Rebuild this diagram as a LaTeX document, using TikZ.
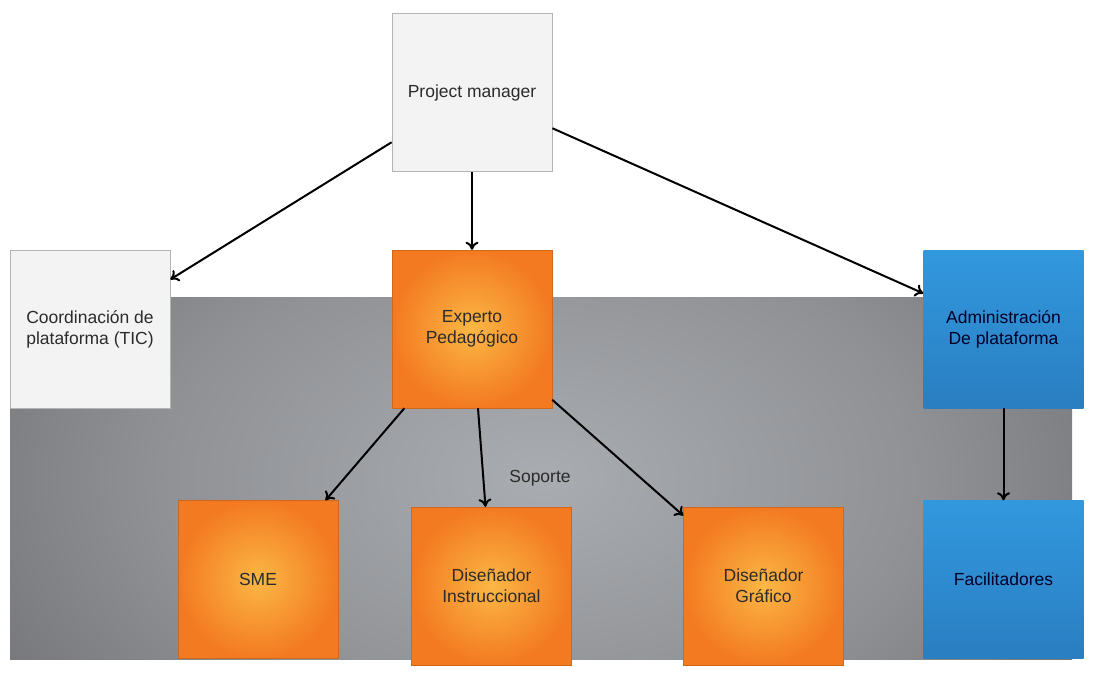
\documentclass[tikz,border=0pt]{standalone}
\usepackage{fontspec}
\setmainfont{Liberation Sans}
\usetikzlibrary{arrows.meta}
\definecolor{boxgray}{HTML}{F3F3F3}
\definecolor{boxline}{HTML}{B4B4B4}
\definecolor{orangein}{HTML}{FBB745}
\definecolor{orangeout}{HTML}{F37A21}
\definecolor{bluetop}{HTML}{3298DE}
\definecolor{bluebot}{HTML}{2A7EC1}
\definecolor{inktext}{HTML}{2B2B2B}
\definecolor{bandA}{HTML}{A9ACB0}
\definecolor{bandB}{HTML}{8F9195}
\definecolor{bandC}{HTML}{717175}
\definecolor{bandD}{HTML}{606064}
\definecolor{bandE}{HTML}{56565A}
\pgfdeclareradialshading{bandshade}{\pgfpoint{0bp}{0bp}}{color(0bp)=(bandA); color(18bp)=(bandB); color(32bp)=(bandC); color(42bp)=(bandD); color(70bp)=(bandE)}
\begin{document}
\begin{tikzpicture}[x=1pt, y=-1pt,
  font=\fontsize{17.5}{21}\selectfont,
  role/.style={align=center, minimum width=160pt, minimum height=158pt, inner sep=0pt, text=inktext},
  plainbox/.style={role, fill=boxgray, draw=boxline, line width=.8pt},
  orangebox/.style={role, inner color=orangein, outer color=orangeout, draw=orangeout!85!black, line width=.4pt},
  bluebox/.style={role, top color=bluetop, bottom color=bluebot, text=black!75!blue!60!black},
  link/.style={-{To[length=8pt,width=13pt]}, line width=2pt}]
\useasboundingbox (0,0) rectangle (1096,688);
% gray band behind the lower boxes
\begin{scope}
  \clip (10,297) rectangle (1072,659);
  \shade[shading=bandshade] (10,147) rectangle (1072,809);
\end{scope}
\node[plainbox] (pm) at (472,92.5) {Project manager};
\node[plainbox] (coord) at (90,329) {Coordinación de\\plataforma (TIC)};
\node[orangebox] (experto) at (472,329) {Experto\\Pedagógico};
\node[bluebox] (admin) at (1003.5,329) {Administración\\De plataforma};
\node[orangebox] (sme) at (258,579.5) {SME};
\node[orangebox] (dinst) at (491.5,586) {Diseñador\\Instruccional};
\node[orangebox] (dgraf) at (763.5,586) {Diseñador\\Gráfico};
\node[bluebox] (facil) at (1003.5,579.5) {Facilitadores};
\node[text=inktext] (soporte) at (540,478) {Soporte};
\draw[link] (pm) -- (coord);
\draw[link] (pm) -- (experto);
\draw[link] (pm) -- (admin);
\draw[link] (experto) -- (sme);
\draw[link] (experto) -- (dinst);
\draw[link] (experto) -- (dgraf);
\draw[link] (admin) -- (facil);
\end{tikzpicture}
\end{document}
